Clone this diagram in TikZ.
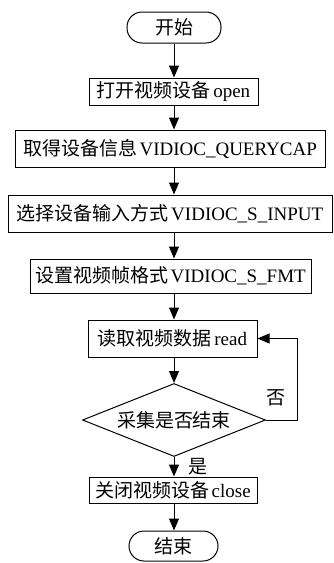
\documentclass[tikz,border=0pt]{standalone}
\usepackage{fontspec}
\setmainfont{Liberation Serif}
\newfontfamily\cjk{Noto Sans CJK SC}
\usetikzlibrary{arrows.meta,shapes.geometric}

\newcommand{\zh}[1]{{\cjk #1}\hspace{2.5pt}}

\tikzset{
  base/.style={draw, line width=1pt, inner sep=0pt, align=center,
    font=\fontsize{19}{22}\selectfont},
  stepbox/.style={base, rectangle},
  termbox/.style={base, rectangle, rounded corners=15pt},
  testbox/.style={base, diamond, aspect=2.5},
  flow/.style={line width=1pt, -{Triangle[width=10pt,length=12pt]}}
}

\begin{document}
\begin{tikzpicture}
  \useasboundingbox (0pt,0pt) rectangle (333pt,-563pt);
  \node[termbox, minimum width=94pt, minimum height=31pt] (start) at (174pt,-27.5pt) {{\cjk 开始}};
  \node[stepbox, minimum width=169pt, minimum height=27pt] (open) at (173.5pt,-91.5pt) {\zh{打开视频设备}open};
  \node[stepbox, minimum width=310pt, minimum height=37pt] (query) at (170pt,-148.5pt) {\zh{取得设备信息}VIDIOC\_QUERYCAP};
  \node[stepbox, minimum width=324pt, minimum height=37pt] (input) at (170pt,-213.5pt) {\zh{选择设备输入方式}VIDIOC\_S\_INPUT};
  \node[stepbox, minimum width=281pt, minimum height=34pt] (fmt) at (170.5pt,-276pt) {\zh{设置视频帧格式}VIDIOC\_S\_FMT};
  \node[stepbox, minimum width=169pt, minimum height=37pt] (read) at (172.5pt,-338.5pt) {\zh{读取视频数据}read};
  \node[testbox, minimum width=183pt, minimum height=73pt] (done) at (174pt,-420pt) {{\cjk 采集是否结束}};
  \node[stepbox, minimum width=168pt, minimum height=26pt] (close) at (173pt,-490pt) {\zh{关闭视频设备}close};
  \node[termbox, minimum width=89pt, minimum height=30pt] (stop) at (173.5pt,-546pt) {{\cjk 结束}};

  \draw[flow] (start.south) -- (start.south |- open.north);
  \draw[flow] (start.south |- open.south) -- (start.south |- query.north);
  \draw[flow] (start.south |- query.south) -- (start.south |- input.north);
  \draw[flow] (start.south |- input.south) -- (start.south |- fmt.north);
  \draw[flow] (start.south |- fmt.south) -- (start.south |- read.north);
  \draw[flow] (start.south |- read.south) -- (done.north);
  \draw[flow] (done.south) -- (done.south |- close.north);
  \draw[flow] (done.south |- close.south) -- (done.south |- stop.north);

  \coordinate (bend) at (297pt,-420pt);
  \draw[flow] (done.east) -- (bend) |- (read.east);

  \node[font=\fontsize{19}{22}\selectfont\cjk] (no) at (276pt,-398pt) {否};
  \node[font=\fontsize{19}{22}\selectfont\cjk] (yes) at (198pt,-467pt) {是};
\end{tikzpicture}
\end{document}
